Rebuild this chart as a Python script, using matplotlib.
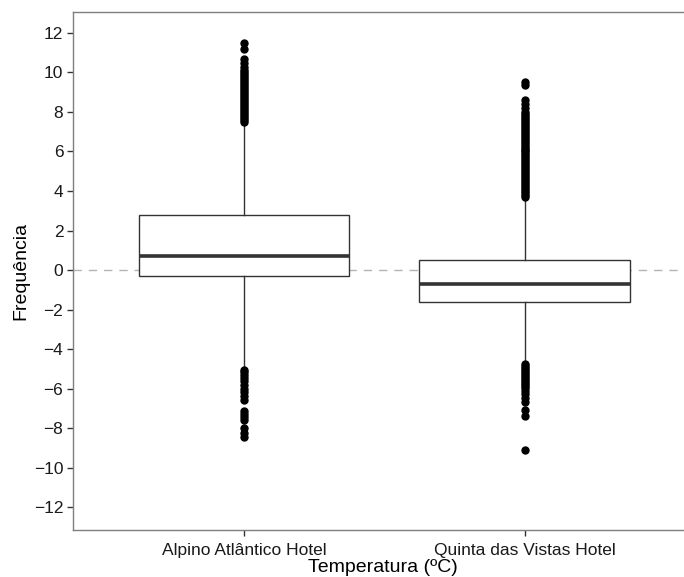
import matplotlib
matplotlib.use("Agg")
import matplotlib.pyplot as plt

plt.rcParams['font.family'] = ['Liberation Sans', 'DejaVu Sans']

# dados
hoteis = ["Alpino Atlântico Hotel", "Quinta das Vistas Hotel"]
q1 = [-0.3, -1.6]
mediana = [0.7, -0.7]
q3 = [2.8, 0.5]
whis_baixo = [-5.0, -4.7]
whis_alto = [7.5, 3.7]

outliers_alpino = [
    7.5, 7.6, 7.7, 7.8, 7.9, 8.0, 8.1, 8.2, 8.3, 8.4, 8.5, 8.6, 8.7, 8.8,
    8.9, 9.0, 9.1, 9.2, 9.3, 9.4, 9.5, 9.6, 9.7, 9.8, 9.9, 10.0, 10.1,
    10.3, 10.5, 10.7, 11.2, 11.5,
    -5.05, -5.15, -5.3, -5.45, -5.6, -5.8, -6.0, -6.2, -6.4, -6.6,
    -7.15, -7.3, -7.45, -7.6, -8.0, -8.25, -8.45,
]
outliers_quinta = [
    3.7, 3.8, 3.9, 4.0, 4.1, 4.2, 4.3, 4.4, 4.5, 4.6, 4.7, 4.8, 4.9, 5.0,
    5.1, 5.2, 5.3, 5.4, 5.5, 5.6, 5.7, 5.8, 5.9, 6.0, 6.1, 6.2, 6.3, 6.4,
    6.5, 6.6, 6.7, 6.8, 6.9, 7.0, 7.1, 7.2, 7.3, 7.4, 7.5, 7.6, 7.7, 7.8,
    7.9, 8.0, 8.2, 8.4, 8.6, 9.35, 9.5,
    -4.75, -4.85, -4.95, -5.05, -5.15, -5.25, -5.35, -5.45, -5.55, -5.65,
    -5.75, -5.85, -5.95, -6.1, -6.3, -6.5, -6.7, -7.1, -7.4, -9.1,
]
outliers = [outliers_alpino, outliers_quinta]

yticks = list(range(-12, 13, 2))

stats = []
for i in range(len(hoteis)):
    stats.append(dict(q1=q1[i], med=mediana[i], q3=q3[i],
                      whislo=whis_baixo[i], whishi=whis_alto[i],
                      fliers=outliers[i]))

fig = plt.figure(figsize=(6.84, 5.77), dpi=100)
ax = fig.add_axes([73 / 684, 47 / 577, 620 / 684, 518 / 577])

ax.axhline(0, color='#b3b3b3', lw=1.0, ls=(0, (6, 5)), zorder=0)

ax.bxp(stats, positions=[1, 2], widths=0.75, showcaps=False,
       patch_artist=True,
       boxprops=dict(facecolor='white', edgecolor='#333333', lw=1.0),
       whiskerprops=dict(color='#333333', lw=1.0),
       medianprops=dict(color='#333333', lw=2.6),
       flierprops=dict(marker='o', markerfacecolor='black',
                       markeredgecolor='black', markersize=5))

ax.set_xlim(0.39, 2.6)
ax.set_ylim(-13.16, 13.06)
ax.set_xticks([1, 2])
ax.set_xticklabels(hoteis)
ax.set_yticks(yticks)
ax.tick_params(axis='both', length=4, width=1, color='#333333',
               labelsize=12.5, labelcolor='#1a1a1a', pad=3)
ax.tick_params(axis='x', pad=5)

for s in ax.spines.values():
    s.set_color('#7f7f7f')
    s.set_linewidth(1.0)

ax.set_xlabel('Temperatura (ºC)', fontsize=14, labelpad=1)
ax.set_ylabel('Frequência', fontsize=14, labelpad=3)

fig.savefig('out.png', dpi=100)
